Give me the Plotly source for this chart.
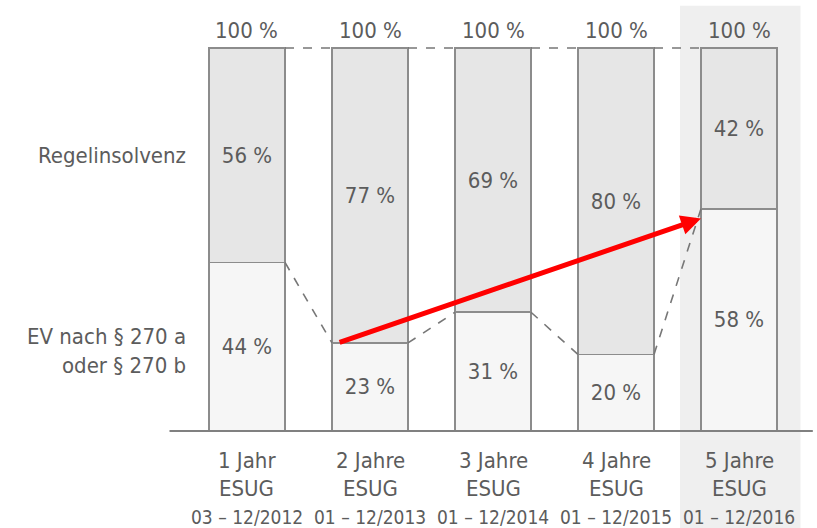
import plotly.graph_objects as go

categories = ["1 Jahr", "2 Jahre", "3 Jahre", "4 Jahre", "5 Jahre"]
line2 = ["ESUG", "ESUG", "ESUG", "ESUG", "ESUG"]
periods = ["03 – 12/2012", "01 – 12/2013", "01 – 12/2014", "01 – 12/2015", "01 – 12/2016"]
ev_values = [44, 23, 31, 20, 58]          # EV nach § 270 a oder § 270 b
regel_values = [56, 77, 69, 80, 42]       # Regelinsolvenz
totals = [100, 100, 100, 100, 100]
series_names = ["EV nach § 270 a<br>oder § 270 b", "Regelinsolvenz"]

FONT = "Liberation Sans Narrow, DejaVu Sans Condensed, Arial Narrow, sans-serif"
TXT = "#5c5c5c"
EDGE = "#8c8c8c"
W = 0.618
xs = list(range(len(categories)))

fig = go.Figure()
fig.add_trace(go.Bar(
    x=xs, y=ev_values, width=W, name="EV",
    marker=dict(color="#f6f6f6", line=dict(color=EDGE, width=1.6)),
    text=[f"{v} %" for v in ev_values], textposition="inside",
    insidetextanchor="middle", textangle=0, constraintext="none",
    textfont=dict(family=FONT, size=22, color=TXT), hoverinfo="skip"))
fig.add_trace(go.Bar(
    x=xs, y=regel_values, width=W, name="Regel",
    marker=dict(color="#e6e6e6", line=dict(color=EDGE, width=1.6)),
    text=[f"{v} %" for v in regel_values], textposition="inside",
    insidetextanchor="middle", textangle=0, constraintext="none",
    textfont=dict(family=FONT, size=22, color=TXT), hoverinfo="skip"))

shapes = []
# highlight for last category
last = xs[-1]
shapes.append(dict(type="rect", xref="x", yref="y", x0=last - 0.48, x1=last + 0.5,
                   y0=-30, y1=111, fillcolor="#efefef", line=dict(width=0), layer="below"))
# connectors
for i in range(len(xs) - 1):
    shapes.append(dict(type="line", xref="x", yref="y", x0=xs[i] + W / 2, x1=xs[i + 1] - W / 2,
                       y0=totals[i], y1=totals[i + 1], line=dict(color="#777777", width=1.6, dash="dash")))
    shapes.append(dict(type="line", xref="x", yref="y", x0=xs[i] + W / 2, x1=xs[i + 1] - W / 2,
                       y0=ev_values[i], y1=ev_values[i + 1], line=dict(color="#777777", width=1.6, dash="dash")))
# baseline axis
shapes.append(dict(type="line", xref="x", yref="y", x0=-0.63, x1=4.6, y0=0, y1=0,
                   line=dict(color="#808080", width=2)))

ann = []
for i in xs:
    ann.append(dict(x=i, y=totals[i], xref="x", yref="y", text=f"{totals[i]} %", showarrow=False,
                    yanchor="bottom", yshift=3, font=dict(family=FONT, size=22, color=TXT)))
    for k, t in enumerate([categories[i], line2[i], periods[i]]):
        ann.append(dict(x=i, y=0, xref="x", yref="y", text=t, showarrow=False,
                        yanchor="middle", yshift=-30 - 28 * k,
                        font=dict(family=FONT, size=22 if k < 2 else 19, color=TXT)))
# series labels on the left
ann.append(dict(x=-0.48, y=(100 + ev_values[0]) / 2, xref="x", yref="y", text=series_names[1],
                showarrow=False, xanchor="right", align="right",
                font=dict(family=FONT, size=22, color=TXT)))
ann.append(dict(x=-0.48, y=ev_values[0] / 2 - 1, xref="x", yref="y", text=series_names[0],
                showarrow=False, xanchor="right", align="right",
                font=dict(family=FONT, size=22, color=TXT)))
# red arrow from 2 Jahre EV to 5 Jahre EV
ann.append(dict(x=xs[4] - W / 2, y=ev_values[4] - 2.5, ax=xs[1] - W / 2 + 0.05, ay=ev_values[1],
                xref="x", yref="y", axref="x", ayref="y", text="", showarrow=True,
                arrowhead=2, arrowsize=0.8, arrowwidth=5, arrowcolor="#ff0000"))

fig.update_layout(
    barmode="stack", width=817, height=528, showlegend=False,
    margin=dict(l=0, r=0, t=0, b=0),
    paper_bgcolor="white", plot_bgcolor="white",
    xaxis=dict(range=[-2.008, 4.634], visible=False, fixedrange=True),
    yaxis=dict(range=[-25.33, 112.53], visible=False, fixedrange=True),
    shapes=shapes, annotations=ann,
)
fig.write_html("out.html")
